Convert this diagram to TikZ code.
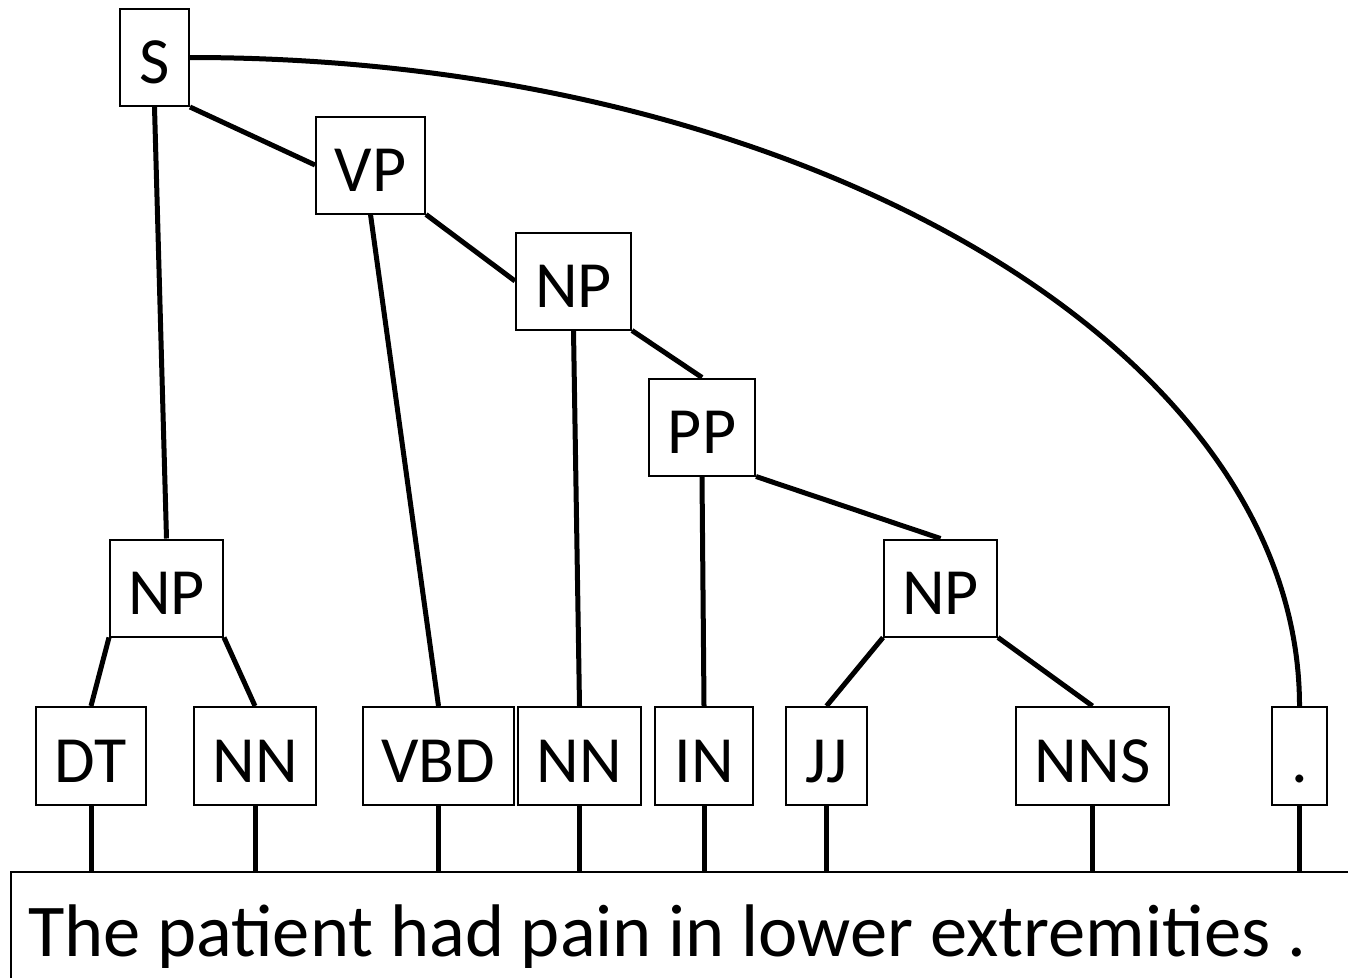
\documentclass[tikz,border=0pt]{standalone}
\usepackage{fontspec}
\setmainfont{Carlito}
\begin{document}
\begin{tikzpicture}[x=1pt,y=-1pt,
  tag/.style={draw,line width=2pt,inner sep=0pt,minimum height=97pt,
    text height=52pt,text depth=0pt,font=\fontsize{66}{70}\selectfont},
  edge/.style={line width=5pt}]
\clip (0,0) rectangle (1348,977);
% phrase nodes
\node[tag,minimum width=69pt]  (S)   at (154.5,57.5) {S};
\node[tag,minimum width=109pt] (VP)  at (370.5,165) {VP};
\node[tag,minimum width=115pt] (NPb) at (573.5,281) {NP};
\node[tag,minimum width=106pt] (PP)  at (702,427) {PP};
\node[tag,minimum width=113pt] (NPa) at (166.5,588) {NP};
\node[tag,minimum width=113pt] (NPc) at (940.5,588) {NP};
% leaf tags
\node[tag,minimum width=110pt,minimum height=98pt] (DT)  at (91,756) {DT};
\node[tag,minimum width=122pt,minimum height=98pt] (NNa) at (255,756) {NN};
\node[tag,minimum width=151pt,minimum height=98pt] (VBD) at (438.5,756) {VBD};
\node[tag,minimum width=123pt,minimum height=98pt] (NNb) at (579.5,756) {NN};
\node[tag,minimum width=98pt,minimum height=98pt]  (IN)  at (704,756) {IN};
\node[tag,minimum width=81pt,minimum height=98pt]  (JJ)  at (826.5,756) {JJ};
\node[tag,minimum width=153pt,minimum height=98pt] (NNS) at (1092.5,756) {NNS};
\node[tag,minimum width=55pt,minimum height=98pt]  (dot) at (1299.5,756) {.};
% sentence box
\node[draw,line width=2pt,anchor=north west,inner xsep=17pt,inner ysep=0pt,
  text width=1400pt,align=flush left,text height=84pt,text depth=56pt,
  font=\fontsize{74.5}{80}\selectfont] (sent) at (10,871)
  {The patient had pain in lower extremities .};
% tree edges
\draw[edge] (S.south) -- (NPa.north);
\draw[edge] (S.south east) -- (VP.west);
\draw[edge] (S.east) .. controls +(612,0) and +(0,-358) .. (dot.north);
\draw[edge] (VP.south) -- (VBD.north);
\draw[edge] (VP.south east) -- (NPb.west);
\draw[edge] (NPb.south) -- (NNb.north);
\draw[edge] (NPb.south east) -- (PP.north);
\draw[edge] (PP.south) -- (IN.north);
\draw[edge] (PP.south east) -- (NPc.north);
\draw[edge] (NPa.south west) -- (DT.north);
\draw[edge] (NPa.south east) -- (NNa.north);
\draw[edge] (NPc.south west) -- (JJ.north);
\draw[edge] (NPc.south east) -- (NNS.north);
% stubs to sentence
\foreach \n in {DT,NNa,VBD,NNb,IN,JJ,NNS,dot}
  \draw[edge] (\n.south) -- (\n.south |- sent.north);
\end{tikzpicture}
\end{document}
